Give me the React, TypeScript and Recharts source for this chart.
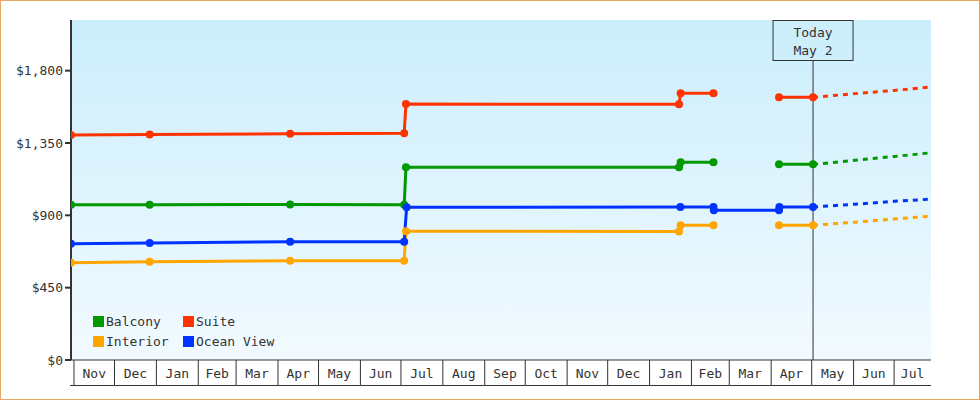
// Cabin price history — step-ish lines per cabin class, dashed projection past "today".
import { CartesianGrid, Line, LineChart, ReferenceLine, XAxis, YAxis } from "recharts";

document.body.style.margin = "0";

const FONT = '"DejaVu Sans Mono", monospace';
const INK = "#333";

// x values are days counted from Nov 1 of the first year
const MONTHS = ["Nov", "Dec", "Jan", "Feb", "Mar", "Apr", "May", "Jun", "Jul", "Aug", "Sep", "Oct", "Nov", "Dec", "Jan", "Feb", "Mar", "Apr", "May", "Jun", "Jul"];
const MONTH_STARTS = [0, 30, 61, 92, 120, 151, 181, 212, 242, 273, 304, 334, 365, 395, 426, 457, 485, 516, 546, 577, 607];
const X_MIN = -2.2;
const X_MAX = 634.3;
const TODAY = 547;
const Y_TICKS = [0, 450, 900, 1350, 1800];

const BALCONY: [number, number | null][] = [[-2.2, 965], [56, 965], [160, 968], [244.4, 966], [245.7, 1199], [447.8, 1199], [449, 1230], [473.3, 1230], [500, null], [521.8, 1217], [547, 1217]];
const SUITE: [number, number | null][] = [[-2.2, 1400], [56, 1402], [160, 1408], [244.4, 1410], [245.7, 1592], [447.8, 1591], [449, 1659], [473.3, 1659], [500, null], [521.8, 1634], [547, 1634]];
const INTERIOR: [number, number | null][] = [[-2.2, 605], [56, 611], [160, 618], [244.4, 618], [245.7, 801], [447.8, 800], [449, 838], [473.3, 838], [500, null], [521.8, 838], [547, 838]];
const OCEAN_VIEW: [number, number | null][] = [[-2.2, 723], [56, 728], [160, 736], [244.4, 736], [246.2, 950], [448.8, 952], [473.3, 952], [473.6, 931], [521.8, 931], [522.1, 952], [547, 952]];

const BALCONY_PROJ: [number, number][] = [[547, 1217], [578, 1242], [607, 1266], [633, 1288]];
const SUITE_PROJ: [number, number][] = [[547, 1634], [578, 1657], [607, 1677], [633, 1697]];
const INTERIOR_PROJ: [number, number][] = [[547, 838], [578, 857], [607, 877], [633, 894]];
const OCEAN_VIEW_PROJ: [number, number][] = [[547, 952], [578, 969], [607, 987], [633, 1000]];

const SERIES = [
  { name: "Balcony", color: "#009900", data: BALCONY, proj: BALCONY_PROJ },
  { name: "Interior", color: "#FFA500", data: INTERIOR, proj: INTERIOR_PROJ },
  { name: "Ocean View", color: "#0033FF", data: OCEAN_VIEW, proj: OCEAN_VIEW_PROJ },
  { name: "Suite", color: "#FF3300", data: SUITE, proj: SUITE_PROJ },
];
const LEGEND_ROWS = [["Balcony", "Suite"], ["Interior", "Ocean View"]];

const W = 980;
const H = 400;
const PLOT_LEFT = 71;
const PLOT_RIGHT = 931;
const PLOT_TOP = 20;
const PLOT_BOTTOM = 360;
const PX_PER_DAY = (PLOT_RIGHT - PLOT_LEFT) / (X_MAX - X_MIN);

const toRows = (pts: [number, number | null][]) => pts.map(([x, v]) => ({ x, v }));

function MonthTick({ x, payload }: { x?: number; payload?: { value: number } }) {
  if (x == null || !payload) return null;
  const i = MONTH_STARTS.indexOf(payload.value);
  const end = i + 1 < MONTH_STARTS.length ? MONTH_STARTS[i + 1] : X_MAX;
  const x2 = x + (end - payload.value) * PX_PER_DAY;
  const left = i === 0 ? PLOT_LEFT - 1 : x;
  const yb = PLOT_BOTTOM + 25.5;
  return (
    <g>
      <line x1={x} x2={x} y1={PLOT_BOTTOM} y2={yb} stroke={INK} strokeWidth={1} />
      <line x1={left} x2={x2} y1={yb} y2={yb} stroke={INK} strokeWidth={1} />
      <text x={(x + x2) / 2} y={PLOT_BOTTOM + 18} textAnchor="middle" fontFamily={FONT} fontSize={13} fill={INK}>
        {MONTHS[i]}
      </text>
    </g>
  );
}

function TodayLabel({ viewBox }: { viewBox?: { x: number } }) {
  const cx = viewBox?.x ?? PLOT_LEFT + (TODAY - X_MIN) * PX_PER_DAY;
  return (
    <g>
      <rect x={cx - 40} y={20.5} width={80} height={40} fill="#CDEFFC" stroke={INK} strokeWidth={1} />
      <text x={cx} y={37} textAnchor="middle" fontFamily={FONT} fontSize={13} fill={INK}>Today</text>
      <text x={cx} y={55} textAnchor="middle" fontFamily={FONT} fontSize={13} fill={INK}>May 2</text>
    </g>
  );
}

export default function App() {
  const colorOf = (name: string) => SERIES.find((s) => s.name === name)?.color ?? INK;
  return (
    <div style={{ position: "relative", width: W, height: H, background: "#fff" }}>
      <LineChart width={W} height={H} margin={{ top: PLOT_TOP, right: W - PLOT_RIGHT, bottom: 10, left: 0 }}>
        <defs>
          <linearGradient id="plotBg" x1="0" y1="0" x2="0" y2="1">
            <stop offset="0%" stopColor="#CBEEFC" />
            <stop offset="100%" stopColor="#F2FAFF" />
          </linearGradient>
        </defs>
        <CartesianGrid horizontal={false} vertical={false} fill="url(#plotBg)" fillOpacity={1} />
        <XAxis
          type="number"
          dataKey="x"
          domain={[X_MIN, X_MAX]}
          allowDataOverflow
          ticks={MONTH_STARTS}
          interval={0}
          tick={<MonthTick />}
          tickLine={false}
          axisLine={{ stroke: INK, strokeWidth: 1 }}
          height={30}
        />
        <YAxis
          type="number"
          domain={[0, 2115]}
          allowDataOverflow
          ticks={Y_TICKS}
          interval={0}
          width={PLOT_LEFT}
          tickFormatter={(v: number) => `$${v.toLocaleString("en-US")}`}
          tick={{ fontFamily: FONT, fontSize: 13, fill: INK }}
          tickSize={6}
          tickMargin={2}
          tickLine={{ stroke: INK, strokeWidth: 2 }}
          axisLine={{ stroke: INK, strokeWidth: 2 }}
        />
        <ReferenceLine x={TODAY} stroke={INK} strokeWidth={1} label={<TodayLabel />} />
        {SERIES.map((s) => (
          <Line
            key={s.name + "-proj"}
            data={toRows(s.proj)}
            dataKey="v"
            type="linear"
            stroke={s.color}
            strokeWidth={3}
            strokeDasharray="5 5"
            dot={false}
            activeDot={false}
            isAnimationActive={false}
          />
        ))}
        {SERIES.map((s) => (
          <Line
            key={s.name}
            name={s.name}
            data={toRows(s.data)}
            dataKey="v"
            type="linear"
            stroke={s.color}
            strokeWidth={3}
            connectNulls={false}
            dot={{ r: 4, fill: s.color, stroke: s.color, strokeWidth: 0 }}
            activeDot={false}
            isAnimationActive={false}
          />
        ))}
      </LineChart>
      <div style={{ position: "absolute", left: 93, top: 311, fontFamily: FONT, fontSize: 13, color: INK, whiteSpace: "nowrap" }}>
        {LEGEND_ROWS.map((row, r) => (
          <div key={r} style={{ display: "flex", height: 20, alignItems: "center" }}>
            {row.map((name, c) => (
              <div key={name} style={{ display: "flex", alignItems: "center", width: c === 0 ? 90 : "auto" }}>
                <span style={{ width: 11, height: 11, background: colorOf(name), marginRight: 2, display: "inline-block", flex: "none" }} />
                <span>{name}</span>
              </div>
            ))}
          </div>
        ))}
      </div>
      <div style={{ position: "absolute", inset: 0, border: "1px solid #E8A862", pointerEvents: "none" }} />
    </div>
  );
}
